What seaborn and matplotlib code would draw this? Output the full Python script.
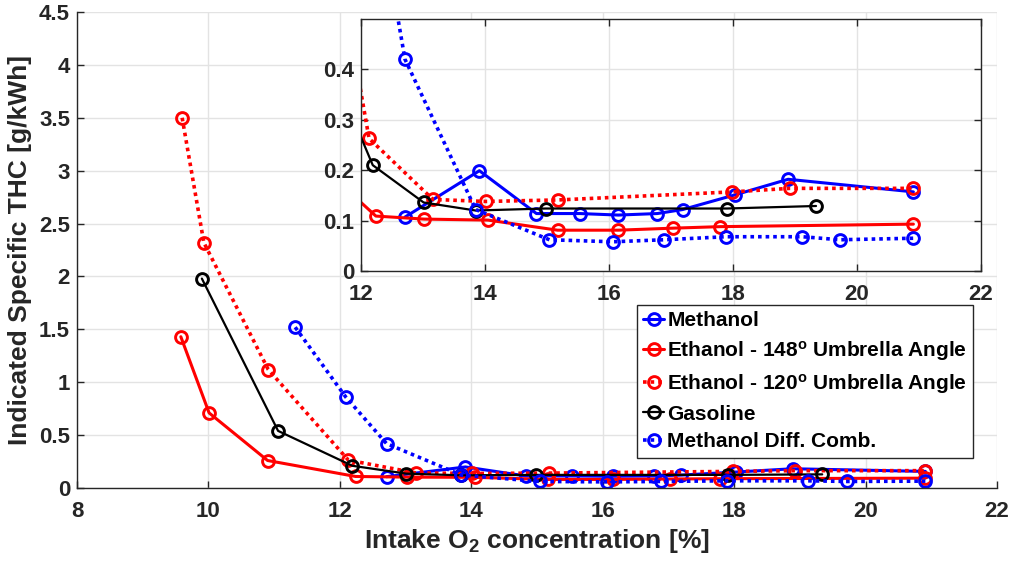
import matplotlib
matplotlib.use("Agg")
import matplotlib.pyplot as plt
from matplotlib.ticker import FuncFormatter
import seaborn as sns

# Intake O2 concentration [%] and indicated specific THC [g/kWh] per fuel / injector
methanol_x = [12.71, 13.91, 14.83, 15.53, 16.15, 16.78, 17.19, 18.03, 18.89, 20.91]
methanol_y = [0.107, 0.199, 0.114, 0.114, 0.111, 0.114, 0.122, 0.151, 0.182, 0.157]

eth148_x = [9.58, 10.01, 10.90, 12.24, 13.02, 14.05, 15.17, 16.15, 17.03, 17.79, 20.91]
eth148_y = [1.43, 0.71, 0.26, 0.109, 0.103, 0.101, 0.081, 0.081, 0.085, 0.088, 0.093]

eth120_x = [9.60, 9.93, 10.91, 12.13, 13.16, 14.01, 15.18, 17.99, 18.92, 20.91]
eth120_y = [3.50, 2.32, 1.12, 0.263, 0.142, 0.138, 0.141, 0.157, 0.164, 0.164]

gasoline_x = [9.90, 11.06, 12.19, 13.01, 13.85, 14.98, 17.90, 19.34]
gasoline_y = [1.98, 0.54, 0.21, 0.136, 0.120, 0.124, 0.124, 0.129]

meth_dc_x = [11.32, 12.09, 12.71, 13.85, 15.04, 16.06, 16.89, 17.89, 19.12, 19.72, 20.91]
meth_dc_y = [1.52, 0.86, 0.42, 0.122, 0.062, 0.058, 0.062, 0.068, 0.068, 0.062, 0.065]

labels = [
    "Methanol",
    r"Ethanol - 148$^{\mathbf{o}}$ Umbrella Angle",
    r"Ethanol - 120$^{\mathbf{o}}$ Umbrella Angle",
    "Gasoline",
    "Methanol Diff. Comb.",
]

main_xticks = [8, 10, 12, 14, 16, 18, 20, 22]
main_yticks = [0, 0.5, 1, 1.5, 2, 2.5, 3, 3.5, 4, 4.5]
inset_xticks = [12, 14, 16, 18, 20, 22]
inset_yticks = [0, 0.1, 0.2, 0.3, 0.4]

DOT = (0, (1, 1.1))
series = [
    (methanol_x, methanol_y, "#0000ff", "-", 2.2),
    (eth148_x, eth148_y, "#ff0000", "-", 2.2),
    (eth120_x, eth120_y, "#ff0000", DOT, 2.6),
    (gasoline_x, gasoline_y, "#000000", "-", 1.6),
    (meth_dc_x, meth_dc_y, "#0000ff", DOT, 2.6),
]

FONT = "Liberation Sans"
sns.set_style("ticks")
plt.rcParams["font.family"] = [FONT, "DejaVu Sans"]
plt.rcParams["font.weight"] = "bold"
plt.rcParams["mathtext.fontset"] = "custom"
plt.rcParams["mathtext.rm"] = f"{FONT}:bold"
plt.rcParams["mathtext.bf"] = f"{FONT}:bold"
plt.rcParams["mathtext.it"] = f"{FONT}:bold"

GRID = "#e3e3e3"
AXC = "#262626"
TICK_FS = 16
LABEL_FS = 19
LEG_FS = 15

fig = plt.figure(figsize=(10.16, 5.66), dpi=100)
ax = fig.add_axes([0.0758, 0.1378, 0.9055, 0.841])
ins = fig.add_axes([0.3553, 0.5212, 0.6102, 0.4452])

fmt = FuncFormatter(lambda v, p: f"{v:g}")


def draw(a):
    for (x, y, c, ls, lw), lab in zip(series, labels):
        sns.lineplot(x=x, y=y, ax=a, color=c, linestyle=ls, linewidth=lw,
                     marker="o", markersize=8.5, markerfacecolor="none",
                     markeredgecolor=c, markeredgewidth=2.1,
                     estimator=None, sort=False, label=lab, legend=False)


draw(ax)
draw(ins)

# main axes
ax.set_xlim(8, 22)
ax.set_ylim(0, 4.5)
ax.set_xticks(main_xticks)
ax.set_yticks(main_yticks)
ax.xaxis.set_major_formatter(fmt)
ax.yaxis.set_major_formatter(fmt)
ax.grid(True, color=GRID, linewidth=1.0)
ax.set_axisbelow(True)
for s in ["top", "right"]:
    ax.spines[s].set_visible(False)
for s in ["left", "bottom"]:
    ax.spines[s].set_color(AXC)
    ax.spines[s].set_linewidth(1.0)
ax.tick_params(direction="in", length=5, width=1, colors=AXC,
               labelsize=TICK_FS, labelcolor=AXC)
ax.tick_params(axis="x", pad=9)
ax.tick_params(axis="y", pad=5)
ax.set_xlabel(r"Intake O$_{\mathbf{2}}$ concentration [%]", fontsize=LABEL_FS,
              fontweight="bold", color=AXC, labelpad=4)
ax.set_ylabel("Indicated Specific THC [g/kWh]", fontsize=LABEL_FS,
              fontweight="bold", color=AXC, labelpad=5)

# inset
ins.set_facecolor("white")
ins.set_xlim(12, 22)
ins.set_ylim(0, 0.5)
ins.set_xticks(inset_xticks)
ins.set_yticks(inset_yticks)
ins.xaxis.set_major_formatter(fmt)
ins.yaxis.set_major_formatter(fmt)
ins.grid(True, color=GRID, linewidth=1.0)
ins.set_axisbelow(True)
for s in ins.spines.values():
    s.set_color(AXC)
    s.set_linewidth(1.0)
ins.tick_params(direction="in", length=5, width=1, colors=AXC,
                labelsize=TICK_FS, labelcolor=AXC, top=True, right=True)
ins.tick_params(axis="x", pad=9)
ins.tick_params(axis="y", pad=5)
ins.set_xlabel("")
ins.set_ylabel("")

handles = ax.get_lines()[:len(labels)]
leg = fig.legend(handles, labels, loc="upper left",
                 bbox_to_anchor=(0.627, 0.461), bbox_transform=fig.transFigure,
                 fontsize=LEG_FS, frameon=True, fancybox=False, framealpha=1,
                 edgecolor=AXC, handlelength=1.0, handletextpad=0.15,
                 labelspacing=0.42, borderpad=0.3, borderaxespad=0)
leg.get_frame().set_linewidth(1.0)
for t in leg.get_texts():
    t.set_fontweight("bold")
    t.set_color("black")

fig.savefig("out.png", dpi=100)
